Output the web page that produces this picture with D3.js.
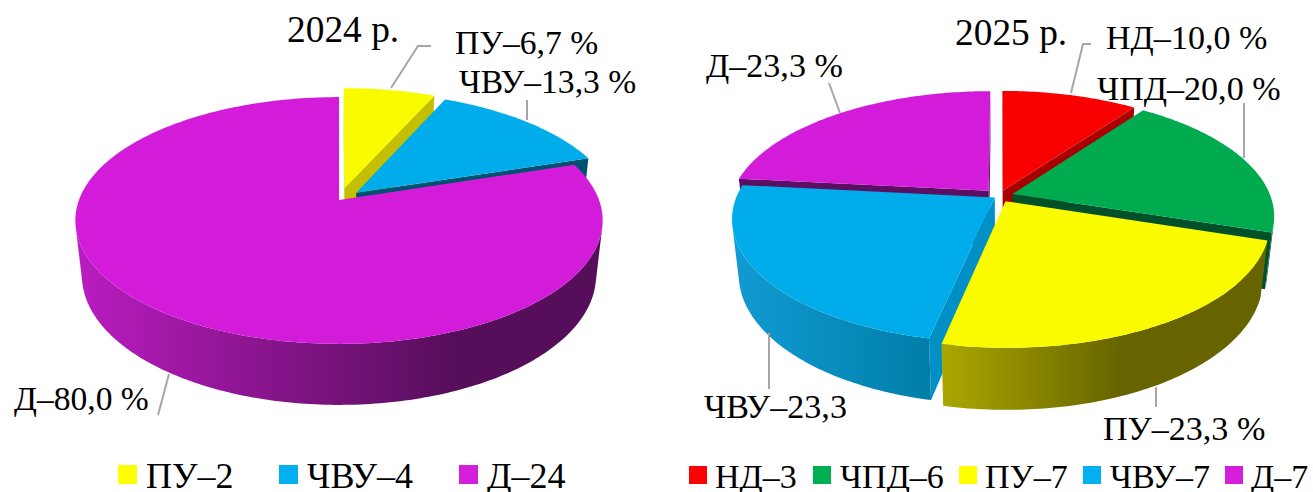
<!DOCTYPE html>
<html><head><meta charset="utf-8">
<script src="https://cdnjs.cloudflare.com/ajax/libs/d3/7.8.5/d3.min.js"></script>
<style>html,body{margin:0;padding:0;background:#fff}svg{display:block}text{font-family:"Liberation Serif",serif;fill:#000}</style>
</head><body><svg id="c" width="1313" height="492"></svg>
<script>
// data
const categories2024 = ["ПУ","ЧВУ","Д"];
const values2024 = [2,4,24];
const percents2024 = ["6,7 %","13,3 %","80,0 %"];
const categories2025 = ["НД","ЧПД","ПУ","ЧВУ","Д"];
const values2025 = [3,6,7,7,7];
const percents2025 = ["10,0 %","20,0 %","23,3 %","23,3","23,3 %"];
const title2024 = "2024 р.";
const title2025 = "2025 р.";

// styling per category
const palette = {
  "НД":{top:"#F90000",cut:"#A80000",s0:"#A80000",s1:"#A80000",m:1},
  "ЧПД":{top:"#00AB50",cut:"#00502A",s0:"#0A5C30",s1:"#0A5C30",m:1},
  "ПУ":{top:"#FAFA00",cut:"#C4BF00",s0:"#ABA700",s1:"#676400",m:.55},
  "ЧВУ":{top:"#00ADEA",cut:"#0090C6",s0:"#119BD3",s1:"#007EA8",m:1},
  "Д":{top:"#D31CDA",cut:"#5A0F62",s0:"#BA1CC0",s1:"#560E5A",m:.72}
};
const legendColor = {"НД":"#FF0000","ЧПД":"#00B050","ПУ":"#FFFF00","ЧВУ":"#00B0F0","Д":"#D41EDB"};

const svg = d3.select("#c");
const defs = svg.append("defs");
const line = d3.line();
let gid = 0;
const cross = (p,q,r)=>(q[0]-p[0])*(r[1]-q[1])-(q[1]-p[1])*(r[0]-q[0]);

function drawPie(cats, vals, o){
  const pie = d3.pie().sort(null).startAngle(0).endAngle(2*Math.PI)(vals);
  const proj = (u,v,z)=>{ const w = 1 - o.k*v + o.m*z;
    return [o.cx + o.a*u/w, o.cy + (o.b*v + o.D*z)/w]; };
  const slices = pie.map((p,i)=>({p,i,cat:cats[i],mid:(p.startAngle+p.endAngle)/2}))
    .sort((x,y)=>(-Math.cos(x.mid))-(-Math.cos(y.mid)));
  slices.forEach(s=>{
    const e = o.e[s.i];
    const ou = e*Math.sin(s.mid), ov = -e*Math.cos(s.mid);
    const pt = (ang,r,z)=>proj(ou+r*Math.sin(ang), ov-r*Math.cos(ang), z);
    const n = Math.max(12,Math.round((s.p.endAngle-s.p.startAngle)*60));
    const angs = d3.range(0,n+1).map(t=>s.p.startAngle+(s.p.endAngle-s.p.startAngle)*t/n);
    const col = o.colors && o.colors[s.cat] ? Object.assign({},palette[s.cat],o.colors[s.cat]) : palette[s.cat];
    const g = svg.append("g");
    const id = "g"+(gid++);
    const lg = defs.append("linearGradient").attr("id",id).attr("x1",0).attr("x2",1).attr("y1",0).attr("y2",0);
    lg.append("stop").attr("offset",0).attr("stop-color",col.s0);
    lg.append("stop").attr("offset",col.m).attr("stop-color",col.s1);
    // visible cut walls
    [[s.p.startAngle,-1],[s.p.endAngle,1]].forEach(([a,sign])=>{
      const q=[pt(a,0,0),pt(a,1,0),pt(a,1,1),pt(a,0,1)];
      if(cross(q[0],q[1],q[2])*sign>0)
        g.append("path").attr("d",line(q)+"Z").attr("fill",col.cut);
    });
    // visible outer wall, as front-facing strips in one path
    let d="";
    for(let j=0;j<n;j++){
      const q=[pt(angs[j],1,0),pt(angs[j+1],1,0),pt(angs[j+1],1,1),pt(angs[j],1,1)];
      if(cross(q[0],q[1],q[2])<0) d+=line(q)+"Z";
    }
    if(d) g.append("path").attr("d",d).attr("fill",`url(#${id})`);
    // top face
    const top=[pt(0,0,0)].concat(angs.map(a=>pt(a,1,0)));
    g.append("path").attr("d",line(top)+"Z").attr("fill",col.top);
  });
}

drawPie(categories2024, values2024, {cx:339,cy:200,a:260,b:120,k:.166,m:.025,D:56,
  e:[.105,.09,0],
  colors:{"ЧВУ":{cut:"#00506F",s0:"#00506F",s1:"#00506F"}}});
drawPie(categories2025, values2025, {cx:999,cy:196,a:258,b:118.8,k:.176,m:.025,D:56,
  e:[.05,.055,.05,.02,.06]});

// leaders
const leaders = [
 [[391,88],[418,46],[431,46]],[[527,120],[527,100]],[[169,374],[158,415]],
 [[1071,93],[1083,44],[1091,44]],[[1244,158],[1244,103]],[[769,333],[769,389]],
 [[1156,387],[1156,407]],[[840,113],[829,83]]
];
leaders.forEach(l=>svg.append("path").attr("d",line(l)).attr("fill","none").attr("stroke","#A6A6A6").attr("stroke-width",2));

// labels
function lab(t,x,y,size){ svg.append("text").attr("x",x).attr("y",y).attr("font-size",size).text(t); }
const pos24=[[455,54],[459,93],[14,410]];
categories2024.forEach((c,i)=>lab(c+"–"+percents2024[i],pos24[i][0],pos24[i][1],33.6));
const pos25=[[1106,49],[1097,100],[1103,440],[704,418],[706,77]];
categories2025.forEach((c,i)=>lab(c+"–"+percents2025[i],pos25[i][0],pos25[i][1],34.1));
lab(title2024,287,42,37.4); lab(title2025,955,45,37.4);

// legends
function legend(cats,vals,sq,tx,size,side,top){
  cats.forEach((c,i)=>{
    svg.append("rect").attr("x",sq[i]).attr("y",top).attr("width",side).attr("height",side).attr("fill",legendColor[c]);
    lab(c+"–"+vals[i],tx[i],488,size);
  });
}
legend(categories2024,values2024,[118,279,459],[146,307,487],36,19,465);
legend(categories2025,values2025,[689,813,959,1083,1225],[715,840,985,1110,1251],34,18,466);
</script></body></html>
